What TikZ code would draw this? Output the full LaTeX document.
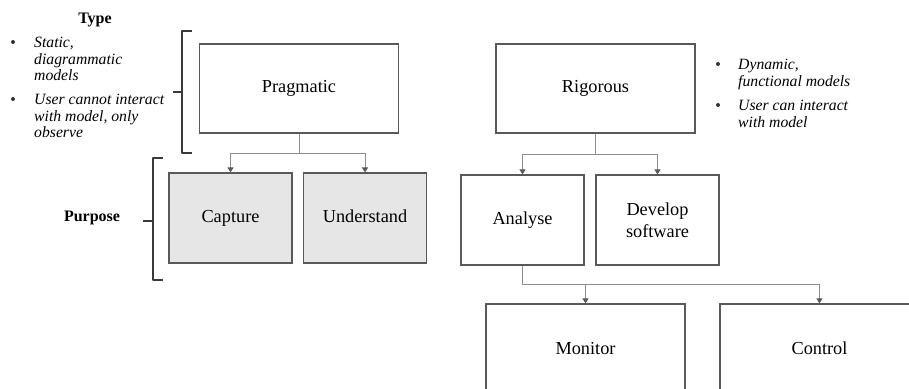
\documentclass[tikz,border=0pt]{standalone}
\usepackage{fontspec}
\setmainfont{Liberation Serif}
\usetikzlibrary{arrows.meta}
\definecolor{boxgray}{HTML}{595959}
\definecolor{linegray}{HTML}{8C8C8C}
\definecolor{fillgray}{HTML}{E6E6E6}
\definecolor{bracegray}{HTML}{3A3A3A}

\begin{document}
\begin{tikzpicture}[x=1pt, y=-1pt,
    box/.style={draw=boxgray, line width=1.1pt, minimum width=199pt, minimum height=89pt,
        inner sep=0pt, align=center, font=\fontsize{18.3}{22}\selectfont},
    smallbox/.style={box, minimum width=123pt, minimum height=90pt},
    shaded/.style={smallbox, fill=fillgray},
    conn/.style={draw=linegray, line width=0.9pt, -{Triangle[length=5pt, width=6pt, color=boxgray]}},
    brace/.style={draw=bracegray, line width=1.4pt, line join=round},
    head/.style={font=\fontsize{16}{18}\selectfont\bfseries, inner sep=0pt},
    note/.style={font=\fontsize{15.7}{16.5}\selectfont\itshape, align=left, anchor=north west, inner sep=0pt},
    bul/.style={circle, fill=black!80, inner sep=0pt, minimum size=4pt}]
            \useasboundingbox (0,0) rectangle (909,388);
            \clip (0,0) rectangle (909,388);
            % left notes
            \node[head] (type) at (95,20) {Type};
            \node[bul] (b1) at (13,42) {};
            \node[note] (n1) at (34,37) {Static,\\diagrammatic\\models};
            \node[bul] (b2) at (13,99) {};
            \node[note] (n2) at (34,94) {User cannot interact\\with model, only\\observe};
            \node[head] (purpose) at (92,218) {Purpose};
            % right notes
            \node[bul] (b3) at (718,64) {};
            \node[note] (n3) at (738,59) {Dynamic,\\functional models};
            \node[bul] (b4) at (718,105) {};
            \node[note] (n4) at (738,100) {User can interact\\with model};
            % braces
            \draw[brace] (192,31) -- (182,31) -- (182,153) -- (192,153);
            \draw[brace] (173,92) -- (182,92);
            \draw[brace] (163,158) -- (153,158) -- (153,280) -- (163,280);
            \draw[brace] (143,221) -- (153,221);
            % boxes
            \node[box] (prag) at (299,88.5) {Pragmatic};
            \node[box] (rig) at (595.5,88.5) {Rigorous};
            \node[shaded] (capt) at (230.5,218) {Capture\strut};
            \node[shaded] (und) at (365,218) {Understand\strut};
            \node[smallbox] (ana) at (522.5,220) {Analyse\strut};
            \node[smallbox] (dev) at (657.5,220) {Develop\\software};
            \node[box] (mon) at (585.5,348.5) {Monitor};
            \node[box] (ctrl) at (819.5,348.5) {Control};
            % connectors
            \draw[conn] (prag.south) -- ++(0,20) -| (capt.north);
            \draw[conn] (prag.south) -- ++(0,20) -| (und.north);
            \draw[conn] (rig.south) -- ++(0,21) -| (ana.north);
            \draw[conn] (rig.south) -- ++(0,21) -| (dev.north);
            \draw[conn] (ana.south) -- ++(0,19) -| (mon.north);
            \draw[conn] (ana.south) -- ++(0,19) -| (ctrl.north);
\end{tikzpicture}
\end{document}
